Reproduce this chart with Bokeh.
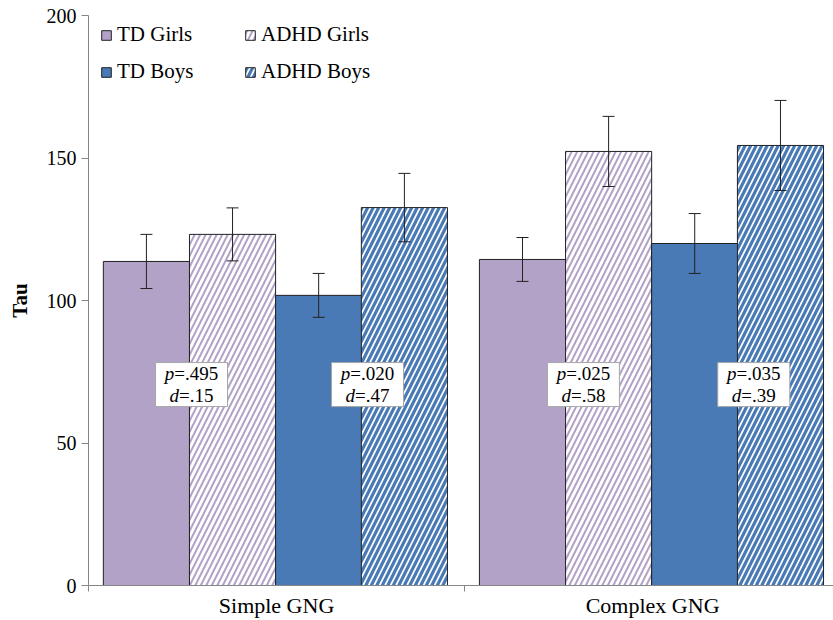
from bokeh.plotting import figure
from bokeh.models import (Range1d, FixedTicker, Whisker, ColumnDataSource, Legend,
                          LegendItem, TeeHead)
from bokeh.core.properties import value
from bokeh.embed import file_html
from bokeh.resources import INLINE

# ---------------- data ----------------
groups = ["Simple GNG", "Complex GNG"]
series = ["TD Girls", "ADHD Girls", "TD Boys", "ADHD Boys"]
td_girls = [113.7, 114.4]
adhd_girls = [123.2, 152.3]
td_boys = [101.8, 120.0]
adhd_boys = [132.6, 154.4]
td_girls_err = [9.5, 7.7]
adhd_girls_err = [9.3, 12.3]
td_boys_err = [7.7, 10.5]
adhd_boys_err = [12.0, 15.8]
p_values = ["p=.495", "p=.020", "p=.025", "p=.035"]
d_values = ["d=.15", "d=.47", "d=.58", "d=.39"]
y_ticks = [0, 50, 100, 150, 200]

means = [td_girls, adhd_girls, td_boys, adhd_boys]
errs = [td_girls_err, adhd_girls_err, td_boys_err, adhd_boys_err]

# ---------------- style ----------------
FONT = "Liberation Serif"
PURPLE = "#b3a2c7"
BLUE = "#4a7ab5"
AXIS_GRAY = "#868686"
BAR_W = 0.229
OFFSETS = [-0.346, -0.117, 0.112, 0.340]
styles = [
    dict(fill_color=PURPLE),
    dict(fill_color="white", hatch_pattern="/", hatch_color=PURPLE, hatch_scale=11, hatch_weight=2.0),
    dict(fill_color=BLUE),
    dict(fill_color="white", hatch_pattern="/", hatch_color=BLUE, hatch_scale=11, hatch_weight=3.2),
]
# annotation placement (x in category units, y in data units)
ann_x = [0.274, 0.742, 1.316, 1.769]
ann_y = 70.5
ANN_FS = 19

p = figure(width=833, height=620, output_backend="svg", toolbar_location=None,
           x_range=Range1d(0, 1.981), y_range=Range1d(0, 200),
           min_border_left=88, min_border_right=0, min_border_top=15, min_border_bottom=10)
p.outline_line_color = None
p.xgrid.visible = False
p.ygrid.visible = False
p.background_fill_color = "white"

renderers = []
for i, s in enumerate(series):
    xs = [g + 0.5 + OFFSETS[i] for g in range(len(groups))]
    src = ColumnDataSource(dict(x=xs, top=means[i],
                                upper=[m + e for m, e in zip(means[i], errs[i])],
                                lower=[m - e for m, e in zip(means[i], errs[i])]))
    r = p.vbar(x="x", top="top", bottom=0, width=BAR_W, source=src,
               line_color="#222222", line_width=1, **styles[i])
    renderers.append(r)
    w = Whisker(base="x", upper="upper", lower="lower", source=src, dimension="height",
                line_color="#222222", line_width=1, level="overlay",
                upper_head=TeeHead(size=12, line_color="#222222", line_width=1),
                lower_head=TeeHead(size=12, line_color="#222222", line_width=1))
    p.add_layout(w)

# annotation boxes
p.rect(x=ann_x, y=[ann_y] * 4, width=72, height=44, width_units="screen",
       height_units="screen", fill_color="white", line_color="#a6a6a6", line_width=1,
       level="overlay")

cw = {'p': 0.5, 'd': 0.5, '=': 0.564, '.': 0.25}
def wid(t):
    return sum(cw.get(c, 0.5) for c in t) * ANN_FS

def add_line(texts, dy):
    first = [t[0] for t in texts]
    rest = [t[1:] for t in texts]
    offs = [-wid(t) / 2 + wid(t[0]) for t in texts]
    src = ColumnDataSource(dict(x=ann_x, y=[ann_y] * 4, first=first, rest=rest, off=offs))
    p.text(x="x", y="y", text="first", x_offset="off", y_offset=dy, source=src,
           text_font=value(FONT), text_font_size=f"{ANN_FS}px", text_font_style="italic",
           text_align="right", text_baseline="middle", text_color="black", level="overlay")
    p.text(x="x", y="y", text="rest", x_offset="off", y_offset=dy, source=src,
           text_font=value(FONT), text_font_size=f"{ANN_FS}px",
           text_align="left", text_baseline="middle", text_color="black", level="overlay")

add_line(p_values, -11)
add_line(d_values, 11)

# axes
p.yaxis.ticker = FixedTicker(ticks=y_ticks)
p.yaxis.axis_line_color = AXIS_GRAY
p.yaxis.major_tick_line_color = AXIS_GRAY
p.yaxis.major_tick_out = 7
p.yaxis.major_tick_in = 0
p.yaxis.minor_tick_line_color = None
p.yaxis.major_label_text_font = FONT
p.yaxis.major_label_text_font_size = "20px"
p.yaxis.major_label_text_color = "black"
p.yaxis.major_label_standoff = 5
p.yaxis.axis_label = "Tau"
p.yaxis.axis_label_text_font = FONT
p.yaxis.axis_label_text_font_size = "21px"
p.yaxis.axis_label_text_font_style = "bold"
p.yaxis.axis_label_text_color = "black"
p.yaxis.axis_label_standoff = 12

p.xaxis.ticker = FixedTicker(ticks=[g + 0.5 for g in range(len(groups))],
                             minor_ticks=[float(g) for g in range(len(groups) + 1)])
p.xaxis.major_label_overrides = {g + 0.5: name for g, name in enumerate(groups)}
p.xaxis.axis_line_color = AXIS_GRAY
p.xaxis.major_tick_line_color = None
p.xaxis.major_tick_out = 0
p.xaxis.major_tick_in = 0
p.xaxis.minor_tick_line_color = AXIS_GRAY
p.xaxis.minor_tick_out = 6
p.xaxis.minor_tick_in = 0
p.xaxis.major_label_text_font = FONT
p.xaxis.major_label_text_font_size = "22px"
p.xaxis.major_label_text_color = "black"
p.xaxis.major_label_standoff = 1

# legend: column-major fill, so order items to read TD / ADHD across rows
legend_order = [0, 2, 1, 3]
legend = Legend(items=[LegendItem(label=series[k], renderers=[renderers[k]]) for k in legend_order],
                ncols=2, location=(12, 501), padding=0, margin=0,
                glyph_width=12, glyph_height=12, label_standoff=5, label_width=115,
                label_height=24, spacing=12,
                label_text_font=FONT, label_text_font_size="21px", label_text_color="black",
                background_fill_alpha=0, border_line_color=None)
p.add_layout(legend, "center")

open("out.html", "w").write(file_html(p, INLINE))
